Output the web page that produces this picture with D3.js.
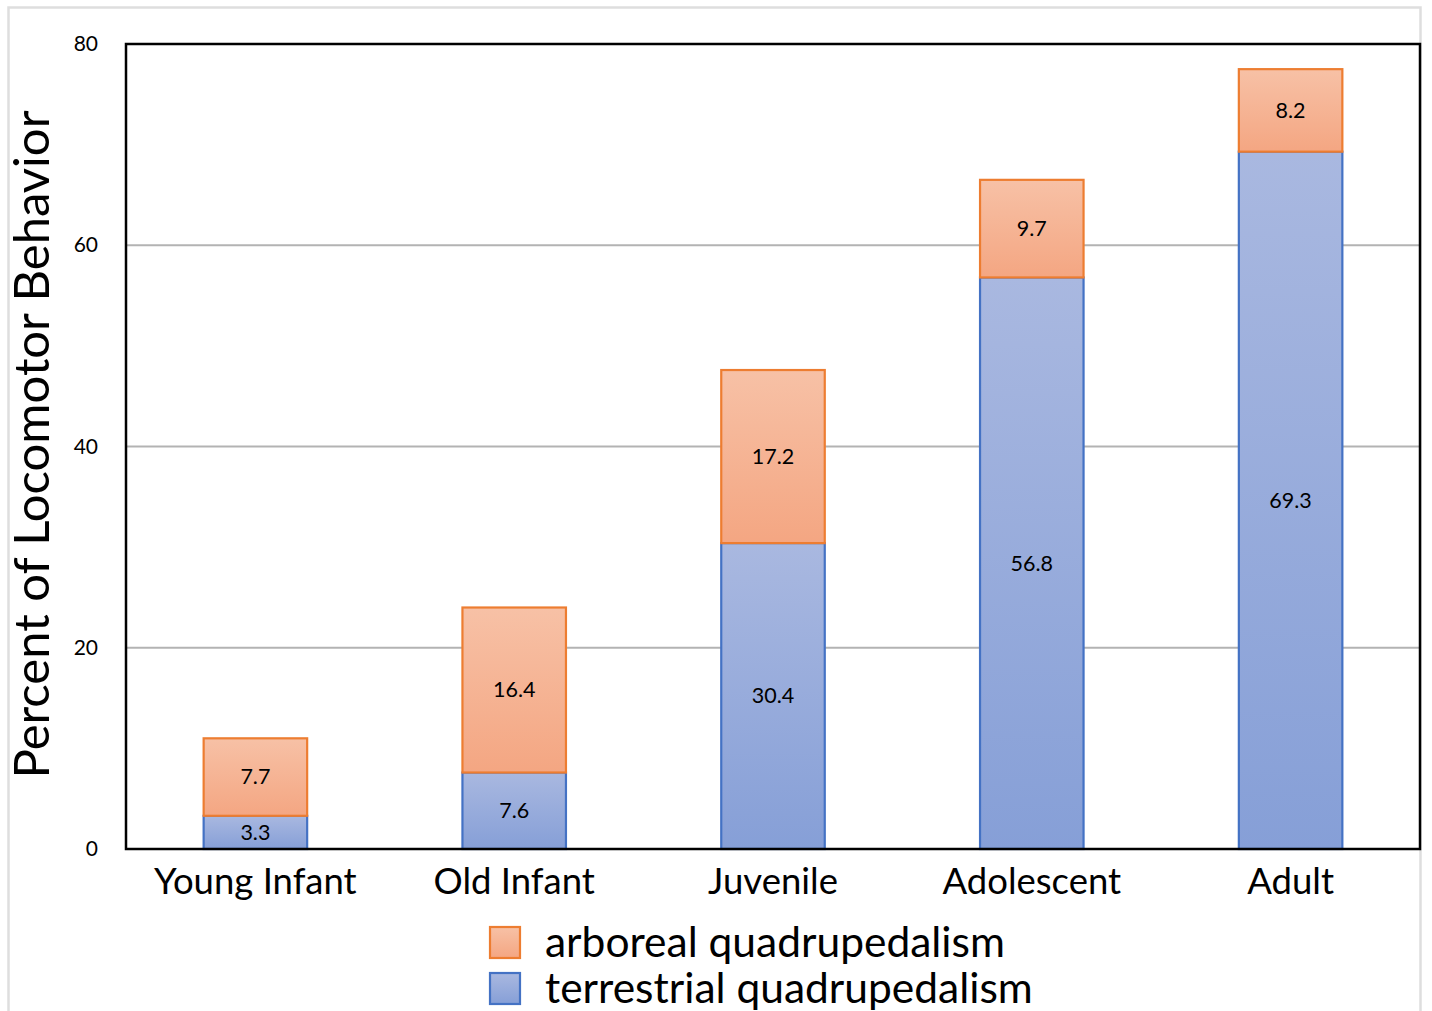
<!DOCTYPE html>
<html><head><meta charset="utf-8">
<script src="https://cdn.jsdelivr.net/npm/d3@7"></script>
<style>body{margin:0;background:#fff;}svg{display:block;font-family:Lato,"Open Sans",sans-serif;}</style>
</head><body>
<script>
const categories = ["Young Infant","Old Infant","Juvenile","Adolescent","Adult"];
const terrestrial = [3.3, 7.6, 30.4, 56.8, 69.3];
const arboreal = [7.7, 16.4, 17.2, 9.7, 8.2];
const yTicks = [0, 20, 40, 60, 80];
const seriesNames = ["arboreal quadrupedalism","terrestrial quadrupedalism"];

const W = 1432, H = 1011;
const m = {left:126, right:12, top:44, bottom:162};
const svg = d3.select("body").append("svg").attr("width", W).attr("height", H);

const defs = svg.append("defs");
function grad(id, c1, c2){
  const g = defs.append("linearGradient").attr("id", id).attr("x1",0).attr("y1",0).attr("x2",0).attr("y2",1);
  g.append("stop").attr("offset","0%").attr("stop-color", c1);
  g.append("stop").attr("offset","100%").attr("stop-color", c2);
}
grad("gOr", "#f7c1a6", "#f4a682");
grad("gBl", "#a9b8e0", "#869fd7");

// outer frame
svg.append("rect").attr("x",8.5).attr("y",7.5).attr("width",1412).attr("height",1010)
  .attr("fill","none").attr("stroke","#dedede").attr("stroke-width",2.5);

const x = d3.scaleBand().domain(categories).range([m.left, W - m.right]).paddingInner(0.6).paddingOuter(0.3);
const y = d3.scaleLinear().domain([0, 80]).range([H - m.bottom, m.top]);

// gridlines
svg.append("g").selectAll("line").data(yTicks.filter(t => t > 0 && t < 80)).join("line")
  .attr("x1", m.left).attr("x2", W - m.right)
  .attr("y1", d => y(d)).attr("y2", d => y(d))
  .attr("stroke", "#b3b3b3").attr("stroke-width", 2);

// y tick labels
const yAxis = d3.axisLeft(y).tickValues(yTicks).tickSize(0).tickPadding(28);
const ya = svg.append("g").attr("transform", `translate(${m.left},0)`).call(yAxis);
ya.select(".domain").remove();
ya.selectAll("text").attr("font-size", 21).attr("font-family","Lato,sans-serif").attr("fill","#000");

// stacked data
const rows = categories.map((c,i) => ({cat:c, terrestrial:terrestrial[i], arboreal:arboreal[i]}));
const stack = d3.stack().keys(["terrestrial","arboreal"])(rows);
const fills = {terrestrial:"url(#gBl)", arboreal:"url(#gOr)"};
const strokes = {terrestrial:"#4472c4", arboreal:"#ed7d31"};

stack.forEach(layer => {
  const g = svg.append("g");
  g.selectAll("rect").data(layer).join("rect")
    .attr("x", d => x(d.data.cat))
    .attr("width", x.bandwidth())
    .attr("y", d => y(d[1]))
    .attr("height", d => y(d[0]) - y(d[1]))
    .attr("fill", fills[layer.key])
    .attr("stroke", strokes[layer.key]).attr("stroke-width", 2.2);
  g.selectAll("text").data(layer).join("text")
    .attr("x", d => x(d.data.cat) + x.bandwidth()/2)
    .attr("y", d => (y(d[0]) + y(d[1]))/2)
    .attr("dy", "0.34em")
    .attr("text-anchor","middle").attr("font-size", 21.5).attr("fill","#000")
    .text(d => d.data[layer.key].toFixed(1));
});

// plot frame
svg.append("rect").attr("x", m.left).attr("y", m.top).attr("width", W - m.right - m.left).attr("height", H - m.bottom - m.top)
  .attr("fill","none").attr("stroke","#000").attr("stroke-width",2.5);

// x labels
const xAxis = d3.axisBottom(x).tickSize(0).tickPadding(19);
const xa = svg.append("g").attr("transform", `translate(0,${H - m.bottom})`).call(xAxis);
xa.select(".domain").remove();
xa.selectAll("text").attr("font-size", 36.5).attr("font-family","Lato,sans-serif").attr("fill","#000");

// y title
svg.append("text").attr("transform", `translate(49,${(y(0)+y(80))/2 - 2}) rotate(-90)`)
  .attr("text-anchor","middle").attr("font-size", 49).attr("fill","#000")
  .text("Percent of Locomotor Behavior");

// legend
const leg = svg.append("g");
const legFill = ["url(#gOr)","url(#gBl)"], legStroke = ["#ed7d31","#4472c4"];
seriesNames.forEach((n,i) => {
  const yy = 927 + i*46;
  leg.append("rect").attr("x",490).attr("y",yy).attr("width",30).attr("height",31)
    .attr("fill",legFill[i]).attr("stroke",legStroke[i]).attr("stroke-width",2.2);
  leg.append("text").attr("x",545).attr("y",yy+15).attr("dy","0.35em")
    .attr("font-size",42.5).attr("fill","#000").text(n);
});
</script>
</body></html>
